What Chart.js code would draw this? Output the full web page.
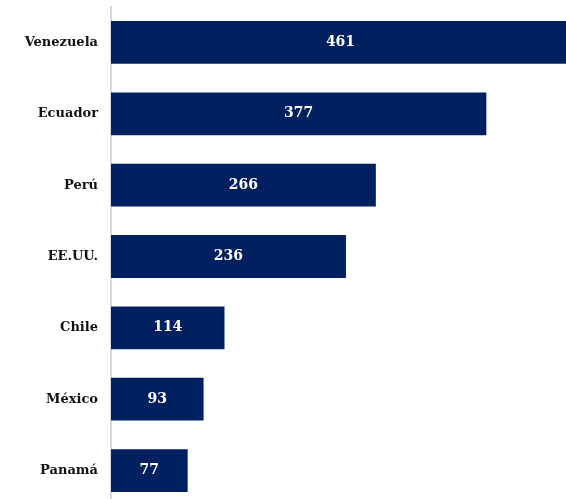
<!DOCTYPE html>
<html>
<head>
<meta charset="utf-8">
<script src="https://cdn.jsdelivr.net/npm/chart.js@4"></script>
<style>
html, body { margin: 0; padding: 0; background: #fff; overflow: hidden; }
#caja { width: 566px; height: 541px; position: absolute; left: 0; top: -14px; }
</style>
</head>
<body>
<div id="caja"><canvas id="grafico"></canvas></div>
<script>
var paises = ["Venezuela", "Ecuador", "Perú", "EE.UU.", "Chile", "México", "Panamá"];
var valores = [461, 377, 266, 236, 114, 93, 77];

// etiquetas blancas dentro de las barras
var etiquetas = {
    id: 'etiquetas',
    afterDatasetsDraw: function(chart){
        var ctx = chart.ctx;
        ctx.save();
        ctx.fillStyle = '#fff';
        ctx.font = 'bold 14px "DejaVu Serif"';
        ctx.textAlign = 'center';
        ctx.textBaseline = 'middle';
        chart.getDatasetMeta(0).data.forEach(function(barra, i){
            var centro = (barra.base + barra.x) / 2;
            ctx.fillText(valores[i], centro, barra.y);
        });
        ctx.restore();
    }
};

var contexto = document.getElementById("grafico").getContext("2d");
var grafico = new Chart(contexto, {
    type: 'bar',
    data: {
        labels: paises,
        datasets: [{
            data: valores,
            backgroundColor: '#002060',
            borderWidth: 0,
            categoryPercentage: 0.6,
            barPercentage: 1
        }]
    },
    options: {
        indexAxis: 'y',
        responsive: true,
        maintainAspectRatio: false,
        animation: false,
        layout: { padding: 0 },
        plugins: { legend: { display: false }, tooltip: { enabled: false } },
        scales: {
            x: { display: false, min: 0, max: 457 },
            y: {
                grid: { display: false, drawTicks: false },
                border: { display: true, color: '#d9d9d9', width: 2 },
                ticks: {
                    color: '#111',
                    padding: 13,
                    font: { family: 'DejaVu Serif', weight: 'bold', size: 13 }
                },
                afterFit: function(escala){ escala.width = 111; }
            }
        }
    },
    plugins: [etiquetas]
});
</script>
</body>
</html>
